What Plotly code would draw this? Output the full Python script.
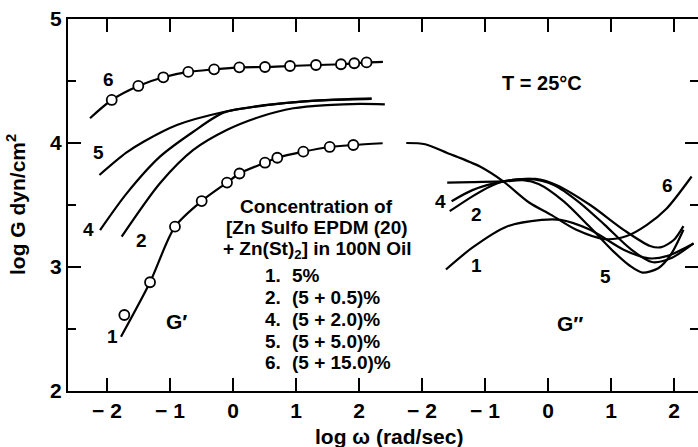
import plotly.graph_objects as go

# ---------------- data (x = log omega, y = log G) ----------------
# G' curves (left panel)
gp1_line_x = [-1.778, -1.317, -0.921, -0.497, -0.095, 0.103, 0.508, 0.703, 1.116, 1.535, 1.91, 2.376]
gp1_line_y = [2.438, 2.877, 3.325, 3.532, 3.681, 3.754, 3.841, 3.881, 3.93, 3.968, 3.984, 3.998]
gp1_mark_x = [-1.725, -1.317, -0.921, -0.497, -0.095, 0.103, 0.508, 0.703, 1.116, 1.535, 1.91]
gp1_mark_y = [2.613, 2.877, 3.325, 3.532, 3.681, 3.754, 3.841, 3.881, 3.93, 3.968, 3.984]

gp6_line_x = [-2.27, -1.925, -1.503, -1.106, -0.71, -0.30, 0.10, 0.508, 0.905, 1.317, 1.714, 1.925, 2.12, 2.38]
gp6_line_y = [4.20, 4.347, 4.46, 4.53, 4.573, 4.594, 4.61, 4.613, 4.621, 4.629, 4.635, 4.643, 4.65, 4.655]
gp6_mark_x = [-1.925, -1.503, -1.106, -0.71, -0.30, 0.10, 0.508, 0.905, 1.317, 1.714, 1.925, 2.12]
gp6_mark_y = [4.347, 4.46, 4.53, 4.573, 4.594, 4.61, 4.613, 4.621, 4.629, 4.635, 4.643, 4.65]

gp5_x = [-2.12, -1.7, -1.42, -0.89, -0.15, 0.5, 1.0, 1.6, 2.2]
gp5_y = [3.742, 3.92, 4.01, 4.145, 4.25, 4.305, 4.33, 4.35, 4.36]
gp4_x = [-2.11, -1.687, -1.159, -0.63, -0.15, 0.43, 1.0, 1.6, 2.2]
gp4_y = [3.298, 3.594, 3.89, 4.091, 4.245, 4.298, 4.33, 4.347, 4.355]
gp2_x = [-1.767, -1.159, -0.63, -0.1, 0.43, 0.957, 1.487, 2.016, 2.41]
gp2_y = [3.244, 3.675, 3.944, 4.105, 4.212, 4.28, 4.306, 4.316, 4.312]

# G'' curves (right panel)
gpp6_x = [-2.25, -1.95, -1.6, -1.08, -0.71, -0.3, 0.05, 0.45, 0.9, 1.25, 1.57, 1.88, 2.28]
gpp6_y = [4.00, 3.99, 3.92, 3.81, 3.69, 3.52, 3.42, 3.30, 3.225, 3.25, 3.34, 3.47, 3.73]
gpp5_x = [-1.6, -1.2, -0.71, -0.4, -0.15, 0.25, 0.65, 1.05, 1.3, 1.5, 1.75, 1.95, 2.15]
gpp5_y = [3.68, 3.685, 3.69, 3.70, 3.67, 3.53, 3.33, 3.12, 3.01, 2.955, 2.99, 3.10, 3.30]
gpp4_x = [-1.53, -1.2, -0.71, -0.3, 0.1, 0.5, 0.9, 1.3, 1.65, 1.95, 2.31]
gpp4_y = [3.53, 3.62, 3.69, 3.71, 3.66, 3.52, 3.34, 3.15, 3.04, 3.07, 3.19]
gpp2_x = [-1.56, -1.2, -0.92, -0.71, -0.2, 0.14, 0.67, 1.2, 1.62, 1.8, 2.0, 2.15]
gpp2_y = [3.45, 3.57, 3.65, 3.69, 3.71, 3.66, 3.50, 3.30, 3.17, 3.16, 3.22, 3.33]
gpp1_x = [-1.62, -1.19, -0.66, -0.1, 0.2, 0.67, 1.2, 1.6, 1.9, 2.31]
gpp1_y = [2.98, 3.16, 3.325, 3.38, 3.38, 3.30, 3.14, 3.07, 3.09, 3.19]

x_tickvals = [-2, -1, 0, 1, 2]
x_ticktext = ["\u2212 2", "\u2212 1", "0", "1", "2"]
y_tickvals = [2, 3, 4, 5]

legend_nums = ["1.", "2.", "4.", "5.", "6."]
legend_txt = ["5%", "(5 + 0.5)%", "(5 + 2.0)%", "(5 + 5.0)%", "(5 + 15.0)%"]

# ---------------- figure ----------------
FONT = "Liberation Sans"
LW = 2.2
fig = go.Figure()

def line(x, y, xa="x", ya="y"):
    fig.add_trace(go.Scatter(x=x, y=y, mode="lines", xaxis=xa, yaxis=ya,
                             line=dict(color="black", width=LW, shape="spline", smoothing=0.8),
                             showlegend=False, hoverinfo="skip"))

def marks(x, y):
    fig.add_trace(go.Scatter(x=x, y=y, mode="markers",
                             marker=dict(symbol="circle", size=10, color="white",
                                         line=dict(color="black", width=1.8)),
                             showlegend=False, hoverinfo="skip"))

line(gp1_line_x, gp1_line_y)
line(gp6_line_x, gp6_line_y)
line(gp5_x, gp5_y)
line(gp4_x, gp4_y)
line(gp2_x, gp2_y)
marks(gp1_mark_x, gp1_mark_y)
marks(gp6_mark_x, gp6_mark_y)

for xs, ys in [(gpp6_x, gpp6_y), (gpp5_x, gpp5_y), (gpp4_x, gpp4_y), (gpp2_x, gpp2_y), (gpp1_x, gpp1_y)]:
    line(xs, ys, "x2", "y2")

W, H = 698, 447
L, R, T, B = 68, 0, 19, 56
split = (390.5 - L) / (W - L - R)

axis_common = dict(showgrid=False, zeroline=False, showline=True, linecolor="black", linewidth=2,
                   ticks="inside", ticklen=13, tickwidth=2, tickcolor="black",
                   tickfont=dict(family=FONT, size=21, color="black", weight="bold"))

fig.update_layout(
    width=W, height=H,
    margin=dict(l=L, r=R, t=T, b=B),
    paper_bgcolor="white", plot_bgcolor="white",
    xaxis=dict(domain=[0, split], range=[-2.619, 2.5], tickmode="array",
               tickvals=x_tickvals, ticktext=x_ticktext, mirror="ticks", anchor="y", **axis_common),
    xaxis2=dict(domain=[split, 1], range=[-2.5, 2.381], tickmode="array",
                tickvals=x_tickvals, ticktext=x_ticktext, mirror="ticks", anchor="y2", **axis_common),
    yaxis=dict(domain=[0, 1], range=[2, 5], tickmode="array", tickvals=y_tickvals, anchor="x",
               minor=dict(ticks="inside", ticklen=8, tickwidth=2, tickcolor="black", dtick=0.5, tick0=0),
               **axis_common),
    yaxis2=dict(domain=[0, 1], range=[2, 5], matches="y", anchor="x2", side="right",
                showticklabels=False, tickmode="array", tickvals=y_tickvals,
                minor=dict(ticks="inside", ticklen=8, tickwidth=2, tickcolor="black", dtick=0.5, tick0=0),
                **{k: v for k, v in axis_common.items() if k != "showline"}, showline=False),
)

def ann(text, x, y, xref="x", yref="y", size=19, xanchor="center", yanchor="middle", angle=0):
    fig.add_annotation(text=text, x=x, y=y, xref=xref, yref=yref, showarrow=False,
                       xanchor=xanchor, yanchor=yanchor, textangle=angle,
                       font=dict(family=FONT, size=size, color="black", weight="bold"))

# curve labels, left panel
ann("6", -1.97, 4.51)
ann("5", -2.13, 3.92)
ann("4", -2.30, 3.30)
ann("2", -1.46, 3.21)
ann("1", -1.92, 2.44)
ann("G\u2032", -0.89, 2.56, size=21)
# concentration block
ann("Concentration of", 1.33, 3.49)
ann("[Zn Sulfo EPDM (20)", 1.33, 3.315)
ann("+ Zn(St)<sub>2</sub>] in 100N Oil", 1.33, 3.14)
leg_y = [2.93, 2.754, 2.58, 2.40, 2.23]
for n, t, yy in zip(legend_nums, legend_txt, leg_y):
    ann(n, 0.476, yy, xanchor="left")
    ann(t, 0.905, yy, xanchor="left")

# right panel
ann("T = 25\u00b0C", -0.095, 4.484, "x2", "y2", size=20)
ann("G\u2033", 0.35, 2.548, "x2", "y2", size=21)
ann("6", 1.89, 3.66, "x2", "y2")
ann("5", 0.92, 2.92, "x2", "y2")
ann("1", -1.13, 3.01, "x2", "y2")
ann("4", -1.70, 3.53, "x2", "y2")
ann("2", -1.13, 3.42, "x2", "y2")

# axis titles
ann("log G dyn/cm<sup>2</sup>", (16 - L) / (W - L - R), 0.5, "paper", "paper", size=21, angle=-90)
ann("log \u03c9 (rad/sec)", (388.5 - L) / (W - L - R), (391 - 437) / (H - T - B), "paper", "paper", size=21)

fig.write_html("out.html")
